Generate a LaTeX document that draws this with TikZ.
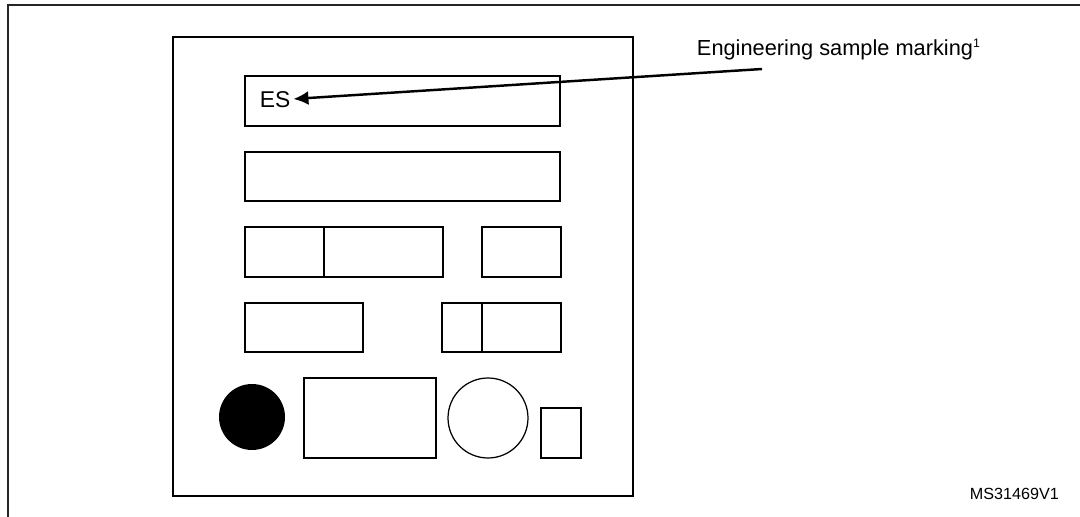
\documentclass[tikz,border=0pt]{standalone}
\usepackage{fontspec}
\setmainfont{Liberation Sans}
\usepackage{xcolor}
\definecolor{markink}{HTML}{000000}
\usetikzlibrary{arrows.meta}

\begin{document}
\begin{tikzpicture}[x=0.02cm,y=-0.02cm,
  field/.style={draw=markink, line width=0.7pt},
  pkg/.style={draw=markink, line width=1.4pt},
  split/.style={draw=markink, line width=1.2pt},
  lbl/.style={inner sep=1.5pt, text=markink, font=\fontsize{12.4}{14}\selectfont},
  ptr/.style={-{Latex[length=0.3cm,width=0.28cm]}, draw=markink, line width=1.4pt}]
\useasboundingbox (0,0) rectangle (1080,517);
\draw[line width=1.3pt, draw=black!85] (8,517) -- (8,5) -- (1080,5);
\draw[pkg] (173,37) rectangle (633,496);
\draw[field] (245,76) rectangle (560,126);
\draw[field] (245,152) rectangle (560,201);
\draw[field] (245,227) rectangle (443,277);
\draw[split] (324,227) -- (324,277);
\draw[field] (482,227) rectangle (561,277);
\draw[field] (245,303) rectangle (363,352);
\draw[field] (442,303) rectangle (561,352);
\draw[split] (482,303) -- (482,352);
\fill[markink] (252,417) circle (0.66cm);
\draw[field] (304,378) rectangle (436,458);
\draw[field] (488,418) circle (0.8cm);
\draw[field] (541,408) rectangle (581,458);
\node[lbl, anchor=base west, font=\fontsize{13}{15}\selectfont] (es) at (257,108) {ES};
\node[lbl, anchor=base west] (mark) at (694,56) {Engineering sample marking{\fontsize{7}{8}\selectfont\raisebox{1.3ex}{1}}};
\coordinate (tail) at (762,69);
\draw[ptr] (tail) -- (es);
\node[lbl, anchor=base west, font=\fontsize{9.2}{11}\selectfont] (ref) at (967,500) {MS31469V1};
\end{tikzpicture}
\end{document}
